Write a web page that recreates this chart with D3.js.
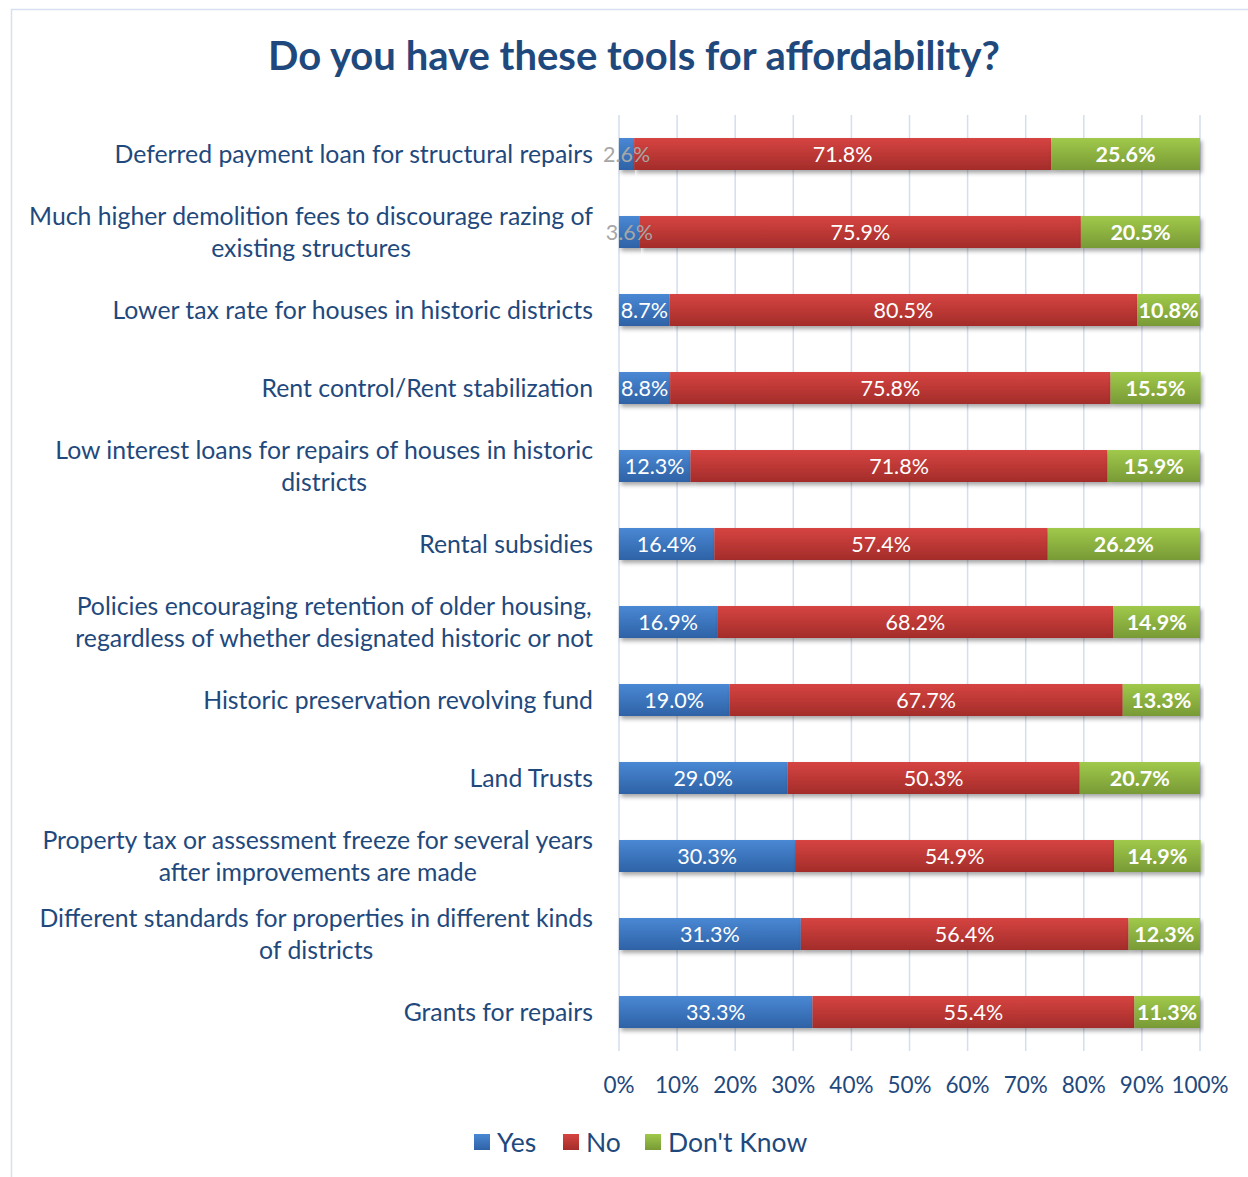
<!DOCTYPE html>
<meta charset="utf-8">
<style>
body { margin: 0; background: white; font-family: 'Lato', sans-serif; }
.lbl { fill: #1F497D; }
</style>
<body>
<script src="https://cdn.jsdelivr.net/npm/d3@7"></script>
<script>
// data, top row first
var categories = [
  "Deferred payment loan for structural repairs",
  "Much higher demolition fees to discourage razing of existing structures",
  "Lower tax rate for houses in historic districts",
  "Rent control/Rent stabilization",
  "Low interest loans for repairs of houses in historic districts",
  "Rental subsidies",
  "Policies encouraging retention of older housing, regardless of whether designated historic or not",
  "Historic preservation revolving fund",
  "Land Trusts",
  "Property tax or assessment freeze for several years after improvements are made",
  "Different standards for properties in different kinds of districts",
  "Grants for repairs"
];
var yes     = [2.6, 3.6, 8.7, 8.8, 12.3, 16.4, 16.9, 19.0, 29.0, 30.3, 31.3, 33.3];
var no      = [71.8, 75.9, 80.5, 75.8, 71.8, 57.4, 68.2, 67.7, 50.3, 54.9, 56.4, 55.4];
var dontKnow = [25.6, 20.5, 10.8, 15.5, 15.9, 26.2, 14.9, 13.3, 20.7, 14.9, 12.3, 11.3];
var seriesNames = ["Yes", "No", "Don't Know"];
var xTicks = [0, 10, 20, 30, 40, 50, 60, 70, 80, 90, 100];

var W = 1248, H = 1177;
var navy = "#1F497D";
var colors = {
  "Yes": ["#4A88D4", "#2E62A6"],
  "No": ["#D64441", "#A32C2A"],
  "Don't Know": ["#A0C94A", "#789A36"]
};

var svg = d3.select("body").append("svg").attr("width", W).attr("height", H);
var defs = svg.append("defs");
seriesNames.forEach(function(s, i) {
  var g = defs.append("linearGradient").attr("id", "grad" + i)
    .attr("x1", 0).attr("y1", 0).attr("x2", 0).attr("y2", 1);
  g.append("stop").attr("offset", "0%").attr("stop-color", colors[s][0]);
  g.append("stop").attr("offset", "100%").attr("stop-color", colors[s][1]);
});
var f = defs.append("filter").attr("id", "shadow")
  .attr("x", "-5%").attr("y", "-20%").attr("width", "110%").attr("height", "160%");
f.append("feDropShadow").attr("dx", 2).attr("dy", 3).attr("stdDeviation", 2)
  .attr("flood-color", "#000").attr("flood-opacity", 0.35);

// frame
svg.append("rect").attr("x", 11.5).attr("y", 9.5).attr("width", 1240).attr("height", 1180)
  .attr("fill", "none").attr("stroke", "#D5E0F0").attr("stroke-width", 1.5);

svg.append("text").attr("x", 634).attr("y", 70).attr("text-anchor", "middle")
  .attr("font-size", 40).attr("font-weight", "bold").attr("fill", navy)
  .text("Do you have these tools for affordability?");

var x = d3.scaleLinear().domain([0, 100]).range([619, 1200]);
var y = d3.scaleBand().domain(categories).range([115, 1051])
  .paddingInner(0.59).paddingOuter(0.295);

// gridlines
svg.append("g").selectAll("line").data(xTicks).join("line")
  .attr("x1", d => x(d)).attr("x2", d => x(d))
  .attr("y1", 115).attr("y2", 1051)
  .attr("stroke", "#D3DEEE").attr("stroke-width", 1.5);

// axis tick labels
svg.append("g").selectAll("text").data(xTicks).join("text")
  .attr("class", "lbl")
  .attr("x", d => x(d)).attr("y", 1093)
  .attr("text-anchor", "middle").attr("font-size", 22.5)
  .text(d => d + "%");

// stacked rows
var rows = categories.map(function(c, i) {
  return { cat: c, vals: [yes[i], no[i], dontKnow[i]] };
});
var segs = [];
rows.forEach(function(r) {
  var acc = 0;
  r.vals.forEach(function(v, k) {
    segs.push({ cat: r.cat, k: k, v: v, x0: acc, x1: acc + v });
    acc += v;
  });
});

svg.append("g").selectAll("rect").data(segs).join("rect")
  .attr("x", d => x(d.x0)).attr("width", d => x(d.x1) - x(d.x0))
  .attr("y", d => y(d.cat)).attr("height", y.bandwidth())
  .attr("fill", d => "url(#grad" + d.k + ")")
  .attr("filter", "url(#shadow)");

svg.append("g").selectAll("text").data(segs).join("text")
  .attr("x", d => (x(d.x0) + x(d.x1)) / 2)
  .attr("y", d => y(d.cat) + y.bandwidth() / 2)
  .attr("dy", "0.36em")
  .attr("text-anchor", "middle")
  .attr("font-size", 21.5)
  .attr("font-weight", d => d.k === 2 ? "bold" : "normal")
  .attr("fill", d => (x(d.x1) - x(d.x0)) < 30 ? "#A6A6A6" : "white")
  .text(d => d.v.toFixed(1) + "%");

// category labels, wrapped and centred as a block flush right
var labelRight = 593, maxW = 568, lineH = 32, fs = 24.8;
var lg = svg.append("g");
categories.forEach(function(c) {
  var t = lg.append("text").attr("class", "lbl").attr("font-size", fs).attr("text-anchor", "middle");
  var words = c.split(" "), lines = [], cur = [];
  var probe = lg.append("text").attr("font-size", fs);
  words.forEach(function(w) {
    var test = cur.concat([w]).join(" ");
    probe.text(test);
    if (probe.node().getComputedTextLength() > maxW && cur.length) {
      lines.push(cur.join(" "));
      cur = [w];
    } else cur.push(w);
  });
  lines.push(cur.join(" "));
  var widths = lines.map(function(l) { probe.text(l); return probe.node().getComputedTextLength(); });
  probe.remove();
  var bw = d3.max(widths);
  var cx = labelRight - bw / 2;
  var cy = y(c) + y.bandwidth() / 2;
  lines.forEach(function(l, j) {
    t.append("tspan").attr("x", cx)
      .attr("y", cy + (j - (lines.length - 1) / 2) * lineH)
      .attr("dy", "0.36em").text(l);
  });
});

// legend
var legX = [474, 563, 645];
var lgd = svg.append("g");
seriesNames.forEach(function(s, i) {
  lgd.append("rect").attr("x", legX[i]).attr("y", 1134).attr("width", 16).attr("height", 16)
    .attr("fill", "url(#grad" + i + ")");
  lgd.append("text").attr("class", "lbl").attr("x", legX[i] + 23).attr("y", 1142)
    .attr("dy", "0.36em").attr("font-size", 26.5).text(s);
});
</script>
</body>
